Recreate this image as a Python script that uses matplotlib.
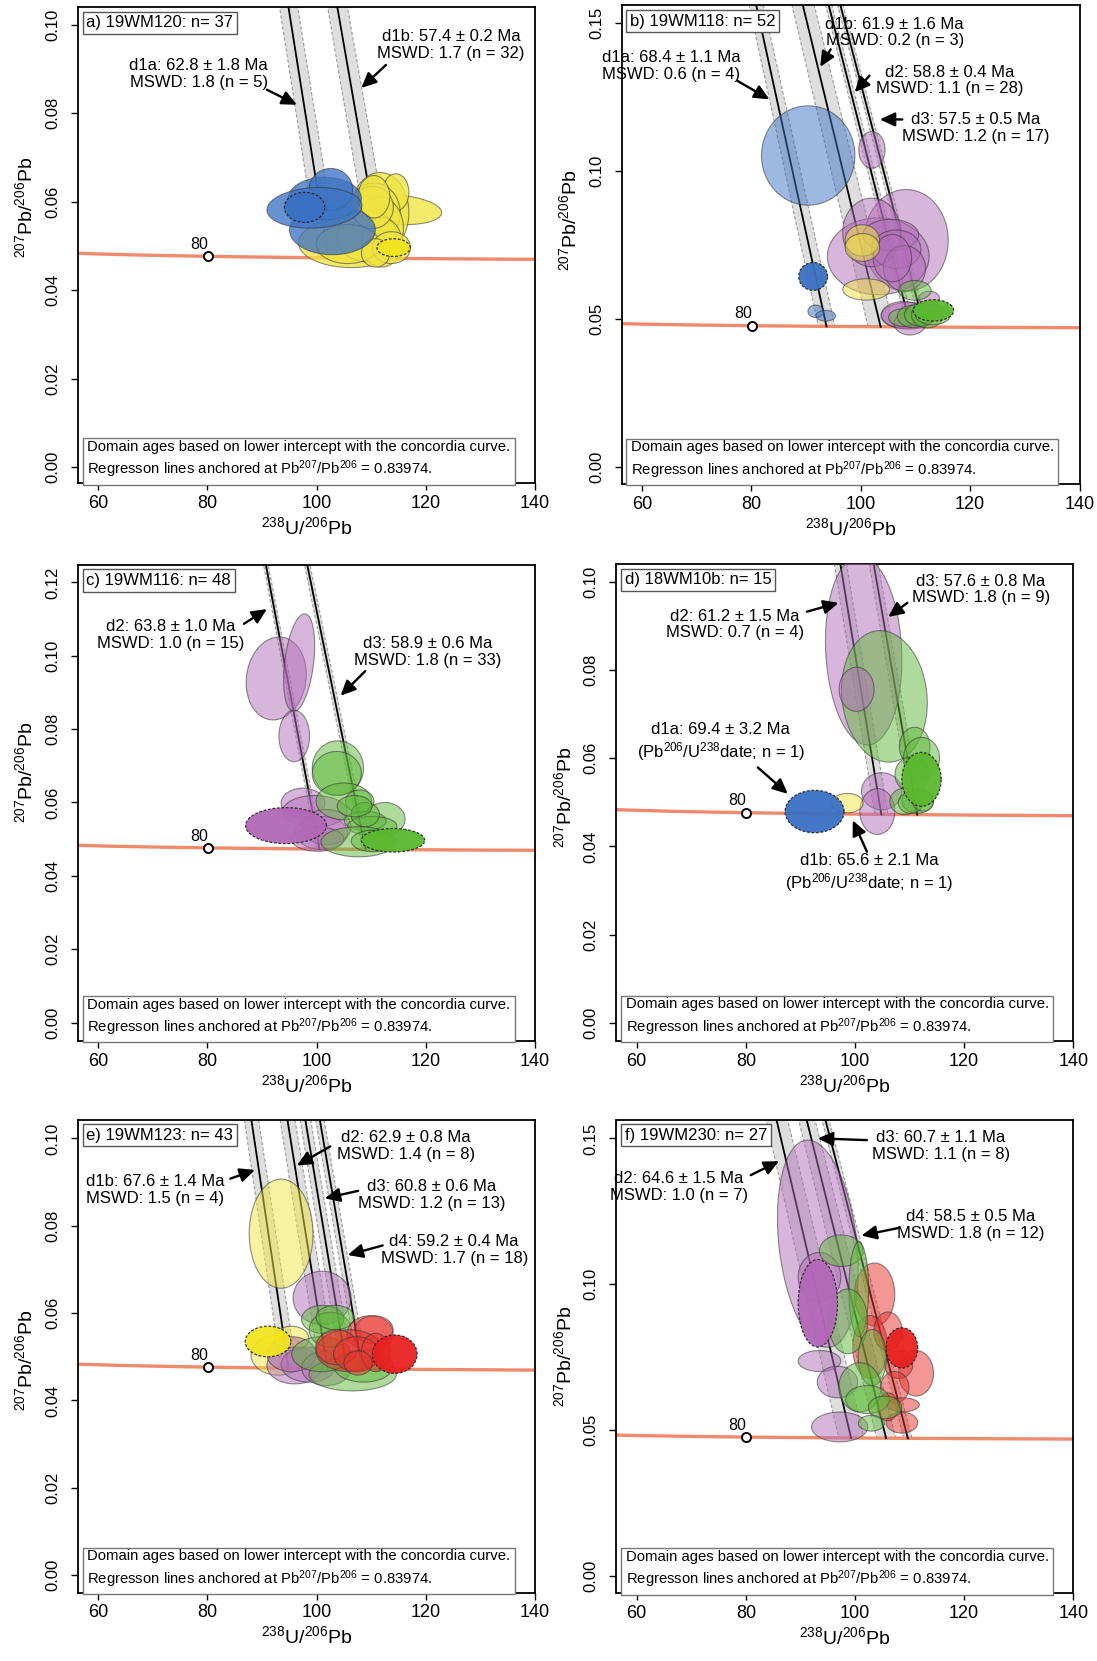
import numpy as np
import matplotlib
matplotlib.use("Agg")
import matplotlib.pyplot as plt
from matplotlib.patches import Polygon
from matplotlib.colors import to_rgba

plt.rcParams['font.family'] = ['Liberation Sans', 'DejaVu Sans']
plt.rcParams['mathtext.fontset'] = 'custom'
plt.rcParams['mathtext.rm'] = 'Liberation Sans'
plt.rcParams['mathtext.it'] = 'Liberation Sans:italic'
plt.rcParams['mathtext.bf'] = 'Liberation Sans:bold'

# ---------------- constants ----------------
L238 = 1.55125e-10
L235 = 9.8485e-10
U85 = 137.818
ANCHOR = 0.83974
MARK_AGE = 80

# ---------------- data ----------------
SAMPLES = ['a) 19WM120: n= 37', 'b) 19WM118: n= 52', 'c) 19WM116: n= 48',
           'd) 18WM10b: n= 15', 'e) 19WM123: n= 43', 'f) 19WM230: n= 27']

# regression domains per panel
A_DOMS = ['d1a', 'd1b']; A_AGE = [62.8, 57.4]; A_ERR = [1.8, 0.2]; A_MSWD = [1.8, 1.7]; A_N = [5, 32]; A_BAND = [1.1, 1.0]
B_DOMS = ['d1a', 'd1b', 'd2', 'd3']; B_AGE = [68.4, 61.9, 58.8, 57.5]; B_ERR = [1.1, 1.6, 0.4, 0.5]
B_MSWD = [0.6, 0.2, 1.1, 1.2]; B_N = [4, 3, 28, 17]; B_BAND = [1.1, 1.4, 0.35, 0.3]
C_DOMS = ['d2', 'd3']; C_AGE = [63.8, 58.9]; C_ERR = [1.0, 0.6]; C_MSWD = [1.0, 1.8]; C_N = [15, 33]; C_BAND = [0.3, 0.3]
D_DOMS = ['d2', 'd3']; D_AGE = [61.2, 57.6]; D_ERR = [1.5, 0.8]; D_MSWD = [0.7, 1.8]; D_N = [4, 9]; D_BAND = [0.7, 0.45]
D_SINGLE_DOMS = ['d1a', 'd1b']; D_SINGLE_AGE = [69.4, 65.6]; D_SINGLE_ERR = [3.2, 2.1]; D_SINGLE_N = [1, 1]
E_DOMS = ['d1b', 'd2', 'd3', 'd4']; E_AGE = [67.6, 62.9, 60.8, 59.2]; E_ERR = [1.4, 0.8, 0.6, 0.4]
E_MSWD = [1.5, 1.4, 1.2, 1.7]; E_N = [4, 8, 13, 18]; E_BAND = [1.0, 0.9, 0.6, 0.45]
F_DOMS = ['d2', 'd3', 'd4']; F_AGE = [64.6, 60.7, 58.5]; F_ERR = [1.5, 1.1, 0.5]; F_MSWD = [1.0, 1.1, 1.8]; F_N = [7, 8, 12]; F_BAND = [1.5, 1.0, 0.4]

# analyses (238U/206Pb, 207Pb/206Pb, half-extent x, half-extent y, rho, domain, selected)
A_X = [106.3, 114.6, 111.6, 114.5, 110.5, 111.4, 109.2, 111.9, 110.2, 110.5, 105.7, 113.7, 110.8,
       102.9, 101.5, 102.6, 99.6, 97.8, 114.1]
A_Y = [0.0507, 0.0582, 0.0575, 0.0621, 0.0575, 0.0540, 0.0522, 0.0508, 0.0587, 0.0611, 0.0504, 0.0496, 0.0484,
       0.0536, 0.0607, 0.0627, 0.0586, 0.0587, 0.0496]
A_SX = [9.6, 8.3, 5.3, 2.4, 4.8, 4.5, 5.45, 3.7, 3.85, 2.9, 5.8, 3.5, 2.6,
        7.86, 6.7, 4.0, 8.7, 3.7, 3.05]
A_SY = [0.0056, 0.0034, 0.0091, 0.0042, 0.0067, 0.0071, 0.0058, 0.0056, 0.0048, 0.0048, 0.0044, 0.0036, 0.0032,
        0.0056, 0.0048, 0.0048, 0.0046, 0.0034, 0.0020]
A_RHO = [0.0, -0.2, 0, 0, 0, 0, 0, 0, 0, 0, 0, 0, 0,
         0, 0, 0, 0.1, 0, 0]
A_DOM = ['d1b', 'd1b', 'd1b', 'd1b', 'd1b', 'd1b', 'd1b', 'd1b', 'd1b', 'd1b', 'd1b', 'd1b', 'd1b',
         'd1a', 'd1a', 'd1a', 'd1a', 'd1a', 'd1b']
A_SEL = [0, 0, 0, 0, 0, 0, 0, 0, 0, 0, 0, 0, 0, 0, 0, 0, 0, 1, 1]

B_X = [108.3, 103.2, 102.0, 105.5, 106.5, 108.0, 105.8, 102.05, 108.7, 107.8, 112.5, 109.0,
       90.4, 91.8, 93.6,
       100.3, 100.3, 101.0,
       109.9, 107.8, 109.6, 110.9, 112.2, 113.2,
       91.3, 113.3]
B_Y = [0.0765, 0.0711, 0.0792, 0.0783, 0.0735, 0.0670, 0.0705, 0.1071, 0.0510, 0.0513, 0.0569, 0.0484,
       0.1052, 0.0525, 0.0510,
       0.0765, 0.0741, 0.0599,
       0.0596, 0.0504, 0.0508, 0.0513, 0.0513, 0.0513,
       0.0643, 0.0528]
B_SX = [7.7, 9.3, 5.3, 5.1, 4.5, 3.85, 3.5, 2.4, 5.0, 4.0, 1.9, 2.9,
        8.54, 1.45, 1.8,
        3.15, 3.15, 4.27,
        2.95, 2.7, 2.9, 2.9, 2.9, 3.2,
        2.63, 3.7]
B_SY = [0.0172, 0.0130, 0.0116, 0.0053, 0.0065, 0.0077, 0.0080, 0.0062, 0.0045, 0.0045, 0.0024, 0.0039,
        0.0168, 0.0021, 0.0018,
        0.0053, 0.0047, 0.0036,
        0.0033, 0.0030, 0.0038, 0.0038, 0.0044, 0.0033,
        0.0047, 0.0036]
B_RHO = [0] * 26
B_DOM = ['d2', 'd2', 'd2', 'd2', 'd2', 'd2', 'd2', 'd2', 'd2', 'd2', 'd2', 'd2',
         'd1a', 'd1a', 'd1a',
         'd1b', 'd1b', 'd1b',
         'd3', 'd3', 'd3', 'd3', 'd3', 'd3',
         'd1a', 'd3']
B_SEL = [0] * 24 + [1, 1]

C_X = [92.6, 96.8, 95.9, 97.5, 99.7, 100.9, 101.8, 100.2,
       103.9, 103.7, 105.0, 107.9, 112.5, 108.9, 110.2, 108.9, 106.95, 107.7, 110.2,
       94.4, 114.0]
C_Y = [0.0938, 0.0981, 0.0781, 0.0598, 0.0576, 0.0517, 0.0533, 0.0500,
       0.0694, 0.0679, 0.0603, 0.0603, 0.0555, 0.0550, 0.0536, 0.0567, 0.0590, 0.0493, 0.0495,
       0.0537, 0.0497]
C_SX = [5.5, 2.85, 2.8, 4.0, 5.9, 4.8, 4.5, 4.8,
        4.7, 4.5, 5.1, 2.6, 3.7, 3.85, 4.5, 2.6, 3.2, 6.9, 3.85,
        7.4, 5.8]
C_SY = [0.0113, 0.0133, 0.0070, 0.0041, 0.0043, 0.0045, 0.0048, 0.0033,
        0.0074, 0.0060, 0.0050, 0.0031, 0.0045, 0.0026, 0.0026, 0.0033, 0.0029, 0.0041, 0.0029,
        0.0049, 0.0032]
C_RHO = [0.1, 0.35, 0, 0, 0, 0, 0, 0,
         0, 0, 0, 0, 0, 0, 0, 0, 0, 0, 0,
         0, 0]
C_DOM = ['d2'] * 8 + ['d3'] * 11 + ['d2', 'd3']
C_SEL = [0] * 19 + [1, 1]

D_X = [101.6, 105.4, 100.3, 104.9, 104.1,
       110.95, 112.2, 110.4, 109.1, 111.5, 110.2, 112.5,
       98.6, 92.6, 112.2]
D_Y = [0.0844, 0.0740, 0.0756, 0.0525, 0.0479,
       0.0626, 0.0601, 0.0563, 0.0502, 0.0503, 0.0499, 0.0502,
       0.0498, 0.0479, 0.0552]
D_SX = [7.0, 7.86, 3.2, 3.7, 3.2,
        2.8, 3.3, 3.06, 2.7, 2.9, 2.25, 1.9,
        2.9, 5.4, 3.6]
D_SY = [0.0214, 0.0149, 0.0050, 0.0042, 0.0052,
        0.0044, 0.0046, 0.0040, 0.0030, 0.0028, 0.0024, 0.0022,
        0.0022, 0.0048, 0.0061]
D_RHO = [-0.1, -0.1, 0, 0, 0,
         0, 0, 0, 0, 0, 0, 0,
         0, 0, 0]
D_DOM = ['d2', 'd3', 'd2', 'd2', 'd2',
         'd3', 'd3', 'd3', 'd3', 'd3', 'd3', 'd3',
         'd1b', 'd1a', 'd3']
D_SEL = [0] * 13 + [1, 1]

E_X = [93.5, 93.0, 95.4,
       101.0, 96.0, 98.6, 95.4, 101.8,
       106.6, 108.6, 100.9, 101.1, 102.5, 103.4,
       109.8, 110.5, 106.0, 103.7, 107.3, 110.8, 107.6,
       91.1, 114.3]
E_Y = [0.0782, 0.0504, 0.0542,
       0.0635, 0.0480, 0.0482, 0.0506, 0.0474,
       0.0460, 0.0478, 0.0506, 0.0586, 0.0562, 0.0590,
       0.0554, 0.0562, 0.0514, 0.0522, 0.0506, 0.0510, 0.0486,
       0.0535, 0.0506]
E_SX = [5.84, 5.0, 3.2,
        5.3, 5.1, 5.1, 4.5, 4.5,
        8.0, 5.4, 5.45, 3.85, 3.85, 3.5,
        4.2, 3.5, 6.1, 3.85, 4.2, 2.6, 2.6,
        4.17, 4.1]
E_SY = [0.0125, 0.0046, 0.0028,
        0.0061, 0.0042, 0.0040, 0.0040, 0.0040,
        0.0038, 0.0036, 0.0040, 0.0032, 0.0040, 0.0028,
        0.0040, 0.0032, 0.0048, 0.0040, 0.0040, 0.0044, 0.0028,
        0.0035, 0.0044]
E_RHO = [0] * 23
E_DOM = ['d1b'] * 3 + ['d2'] * 5 + ['d3'] * 6 + ['d4'] * 7 + ['d1b', 'd4']
E_SEL = [0] * 21 + [1, 1]

F_X = [93.2, 93.5, 93.5, 96.8, 97.2,
       103.6, 102.8, 106.05, 111.2, 108.0, 107.3, 108.8, 108.6, 106.0,
       97.5, 100.7, 98.7, 103.2, 100.9, 102.3, 105.5, 103.0,
       93.2, 108.6]
F_Y = [0.1139, 0.1025, 0.0737, 0.0665, 0.0511,
       0.0965, 0.0785, 0.0839, 0.0695, 0.0725, 0.0647, 0.0587, 0.0526, 0.0580,
       0.1115, 0.0983, 0.0873, 0.0749, 0.0647, 0.0605, 0.0578, 0.0524,
       0.0935, 0.0782]
F_SX = [7.4, 3.9, 3.9, 3.7, 5.15,
        3.7, 3.2, 2.6, 3.2, 2.6, 2.6, 3.0, 2.9, 1.9,
        4.0, 1.8, 3.6, 2.6, 3.86, 4.0, 3.06, 2.4,
        3.6, 2.9]
F_SY = [0.0355, 0.0084, 0.0036, 0.0054, 0.0051,
        0.0108, 0.0108, 0.0066, 0.0078, 0.0048, 0.0054, 0.0024, 0.0036, 0.0048,
        0.0054, 0.0162, 0.0111, 0.0096, 0.0084, 0.0048, 0.0039, 0.0027,
        0.0150, 0.0069]
F_RHO = [-0.25, 0, 0, 0, 0,
         0, 0, 0, 0, 0, 0, 0, 0, 0,
         0, 0, 0, 0, 0, 0, 0, 0,
         0, 0]
F_DOM = ['d2'] * 5 + ['d4'] * 9 + ['d3'] * 8 + ['d2', 'd4']
F_SEL = [0] * 22 + [1, 1]

DOMAIN_COLORS = {'d1a': '#3f74c4', 'd1b': '#f0e442', 'd2': '#b26fb9', 'd3': '#5fb83a', 'd4': '#e8302a'}
SEL_COLORS = {'d1a': '#3a70c2', 'd1b': '#f2e420', 'd2': '#b268b8', 'd3': '#5cb830', 'd4': '#e82020'}

# ---------------- layout ----------------
W, H = 1097, 1661
AX_BOXES = [(78, 535, 7, 483.4), (621.7, 1079.5, 5.3, 484),
            (78, 535, 564.7, 1041), (616.5, 1073.2, 564, 1041),
            (78, 535, 1119.7, 1592.6), (616.5, 1073.2, 1119.7, 1593.3)]
YLIMS = [(-0.0037, 0.104), (-0.0059, 0.156), (-0.005, 0.1248),
         (-0.0041, 0.104), (-0.004, 0.1043), (-0.0059, 0.1564)]
YLABEL_Y = [0.58, 0.55, 0.565, 0.51, 0.49, 0.50]
YTICKS = [[0, 0.02, 0.04, 0.06, 0.08, 0.10], [0, 0.05, 0.10, 0.15],
          [0, 0.02, 0.04, 0.06, 0.08, 0.10, 0.12], [0, 0.02, 0.04, 0.06, 0.08, 0.10],
          [0, 0.02, 0.04, 0.06, 0.08, 0.10], [0, 0.05, 0.10, 0.15]]
XLIM = (56.3, 140)
XTICKS = [60, 80, 100, 120, 140]

# text anchor (data) and arrow tail/head (data) for each regression domain
LABEL_POS = [
    [((78.4, 0.0889), (90.9, 0.0853), (96.4, 0.0819)), ((124.6, 0.0954), (112.7, 0.0909), (108.2, 0.0857))],
    [((65.3, 0.1354), (77.5, 0.1304), (83.3, 0.1242)), ((106.2, 0.1468), (94.5, 0.1411), (92.6, 0.1352)),
     ((116.2, 0.1306), (101.6, 0.1322), (98.9, 0.1266)), ((121.0, 0.1146), (107.6, 0.1174), (103.5, 0.1174))],
    [((73.3, 0.1056), (86.7, 0.1087), (90.9, 0.1127)), ((120.4, 0.1010), (108.9, 0.0958), (104.4, 0.0891))],
    [((78.0, 0.0903), (91.2, 0.0932), (97.0, 0.0952)), ((123.1, 0.0982), (109.6, 0.0952), (106.1, 0.0920))],
    [((70.4, 0.0882), (84.2, 0.0908), (88.7, 0.0928)), ((116.3, 0.0982), (102.5, 0.0982), (96.4, 0.0938)),
     ((121.1, 0.0870), (107.6, 0.0880), (101.5, 0.0863)), ((125.2, 0.0745), (112.1, 0.0755), (105.7, 0.0733))],
    [((67.7, 0.1334), (80.9, 0.1374), (86.1, 0.1422)), ((115.7, 0.1474), (102.2, 0.1494), (93.2, 0.1500)),
     ((121.2, 0.1203), (108.0, 0.1193), (101.2, 0.1167))],
]
D_SINGLE_POS = [((75.4, 0.0635), (82.2, 0.0579), (87.7, 0.0519)),
                ((102.6, 0.0339), (102.2, 0.0388), (99.6, 0.0459))]

FS_ANN = 12
ARROW = dict(arrowstyle='-|>,head_length=0.6,head_width=0.28', lw=1.7,
             color='black', shrinkA=0, shrinkB=0, mutation_scale=15)


def tw(t_ma):
    t = np.asarray(t_ma) * 1e6
    e8 = np.exp(L238 * t) - 1
    e5 = np.exp(L235 * t) - 1
    return 1.0 / e8, e5 / e8 / U85


def line_x(age, y):
    xi, yi = tw(age)
    return xi * (ANCHOR - y) / (ANCHOR - yi)


def draw_ellipse(ax, x, y, sx, sy, rho, dom, sel, alpha):
    th = np.linspace(0, 2 * np.pi, 120)
    px = x + sx * np.cos(th)
    py = y + sy * (rho * np.cos(th) + np.sqrt(1 - rho ** 2) * np.sin(th))
    if sel:
        poly = Polygon(np.column_stack([px, py]), closed=True,
                       fc=to_rgba(SEL_COLORS[dom], 0.95), ec=to_rgba('#222222', 0.9),
                       lw=0.9, ls=(0, (2.2, 1.4)), zorder=4)
    else:
        poly = Polygon(np.column_stack([px, py]), closed=True,
                       fc=to_rgba(DOMAIN_COLORS[dom], alpha), ec=to_rgba('#333333', 0.55),
                       lw=0.8, zorder=3)
    ax.add_patch(poly)


def draw_panel(ax, idx, doms, ages, errs, mswds, ns, bands, ell, alpha=0.5):
    ylo, yhi = YLIMS[idx]
    ax.set_xlim(*XLIM)
    ax.set_ylim(ylo, yhi)

    # concordia
    tt = np.linspace(40, 130, 500)
    cxs, cys = tw(tt)
    ax.plot(cxs, cys, color='#f08a6c', lw=2.4, zorder=2, solid_capstyle='butt')

    # regression bands and lines
    ytop = yhi + 0.01
    for age, band in zip(ages, bands):
        a_old, a_young = age + band, age - band
        xo_i, yo_i = tw(a_old)
        xy_i, yy_i = tw(a_young)
        poly = [(line_x(a_old, ytop), ytop), (xo_i, yo_i), (xy_i, yy_i), (line_x(a_young, ytop), ytop)]
        ax.add_patch(Polygon(poly, closed=True, fc='#dedede', ec='none', zorder=1))
        ax.plot([line_x(a_old, ytop), xo_i], [ytop, yo_i], color='#9a9a9a', lw=0.8, ls=(0, (3, 2)), zorder=1.5)
        ax.plot([line_x(a_young, ytop), xy_i], [ytop, yy_i], color='#9a9a9a', lw=0.8, ls=(0, (3, 2)), zorder=1.5)
        xi, yi = tw(age)
        ax.plot([line_x(age, ytop), xi], [ytop, yi], color='black', lw=1.3, zorder=2.5)

    # ellipses
    X, Y, SX, SY, RHO, DOM, SEL = ell
    for i in range(len(X)):
        draw_ellipse(ax, X[i], Y[i], SX[i], SY[i], RHO[i], DOM[i], SEL[i], alpha)

    # 80 Ma marker
    mx, my = tw(MARK_AGE)
    ax.plot([mx], [my], 'o', ms=6.5, mfc='white', mec='black', mew=1.4, zorder=6)
    ax.annotate(str(MARK_AGE), xy=(mx, my), xytext=(-6.5, 8.5), textcoords='offset points',
                ha='center', va='center', fontsize=11.5, zorder=6)

    # domain labels
    for k, dom in enumerate(doms):
        (tx, ty), (ax0, ay0), (ax1, ay1) = LABEL_POS[idx][k]
        txt = f"{dom}: {ages[k]:.1f} ± {errs[k]:.1f} Ma\nMSWD: {mswds[k]:.1f} (n = {ns[k]})"
        ax.text(tx, ty, txt, ha='center', va='center', fontsize=FS_ANN, zorder=7, linespacing=1.15)
        ax.annotate('', xy=(ax1, ay1), xytext=(ax0, ay0), arrowprops=ARROW, zorder=7)

    # title box
    ax.text(0.018, 0.967, SAMPLES[idx], transform=ax.transAxes, ha='left', va='center', fontsize=12,
            zorder=8, bbox=dict(boxstyle='square,pad=0.22', fc='white', ec='#555555', lw=1.0))
    # footnote box
    ax.text(0.02, 0.049,
            "Domain ages based on lower intercept with the concordia curve.\n"
            "Regresson lines anchored at Pb$^{207}$/Pb$^{206}$ = 0.83974.",
            transform=ax.transAxes, ha='left', va='center', fontsize=10.7, linespacing=1.3, zorder=8,
            bbox=dict(boxstyle='square,pad=0.3', fc='white', ec='#777777', lw=1.0))

    # axes styling
    ax.set_xticks(XTICKS)
    ax.set_xticklabels([str(v) for v in XTICKS])
    ax.set_yticks(YTICKS[idx])
    ax.set_yticklabels([f"{v:.2f}" for v in YTICKS[idx]])
    ax.tick_params(axis='both', direction='out', length=5.3, width=1.0)
    ax.tick_params(axis='x', pad=3, labelsize=13)
    ax.tick_params(axis='y', pad=7.5, labelrotation=90, labelsize=12)
    for lab in ax.get_yticklabels():
        lab.set_va('center')
    for s in ax.spines.values():
        s.set_linewidth(1.3)
    ax.text(0.5, -0.092, r'$^{238}$U/$^{206}$Pb', transform=ax.transAxes, ha='center', va='center',
            fontsize=14)
    ax.text(-0.115, YLABEL_Y[idx], r'$^{207}$Pb/$^{206}$Pb', transform=ax.transAxes, ha='center',
            va='center', fontsize=14, rotation=90)


fig = plt.figure(figsize=(W / 100, H / 100), dpi=100)
axes = []
for (l, r, t, b) in AX_BOXES:
    axes.append(fig.add_axes([l / W, 1 - b / H, (r - l) / W, (b - t) / H]))

draw_panel(axes[0], 0, A_DOMS, A_AGE, A_ERR, A_MSWD, A_N, A_BAND,
           (A_X, A_Y, A_SX, A_SY, A_RHO, A_DOM, A_SEL), alpha=0.78)
draw_panel(axes[1], 1, B_DOMS, B_AGE, B_ERR, B_MSWD, B_N, B_BAND,
           (B_X, B_Y, B_SX, B_SY, B_RHO, B_DOM, B_SEL))
draw_panel(axes[2], 2, C_DOMS, C_AGE, C_ERR, C_MSWD, C_N, C_BAND,
           (C_X, C_Y, C_SX, C_SY, C_RHO, C_DOM, C_SEL))
draw_panel(axes[3], 3, D_DOMS, D_AGE, D_ERR, D_MSWD, D_N, D_BAND,
           (D_X, D_Y, D_SX, D_SY, D_RHO, D_DOM, D_SEL))
draw_panel(axes[4], 4, E_DOMS, E_AGE, E_ERR, E_MSWD, E_N, E_BAND,
           (E_X, E_Y, E_SX, E_SY, E_RHO, E_DOM, E_SEL))
draw_panel(axes[5], 5, F_DOMS, F_AGE, F_ERR, F_MSWD, F_N, F_BAND,
           (F_X, F_Y, F_SX, F_SY, F_RHO, F_DOM, F_SEL))

# single-analysis dates in panel d
axd = axes[3]
for k, dom in enumerate(D_SINGLE_DOMS):
    (tx, ty), (x0, y0), (x1, y1) = D_SINGLE_POS[k]
    txt = (f"{dom}: {D_SINGLE_AGE[k]:.1f} ± {D_SINGLE_ERR[k]:.1f} Ma\n"
           f"(Pb$^{{206}}$/U$^{{238}}$date; n = {D_SINGLE_N[k]})")
    axd.text(tx, ty, txt, ha='center', va='center', fontsize=FS_ANN, zorder=7, linespacing=1.15)
    axd.annotate('', xy=(x1, y1), xytext=(x0, y0), arrowprops=ARROW, zorder=7)

fig.savefig('out.png', dpi=100)
